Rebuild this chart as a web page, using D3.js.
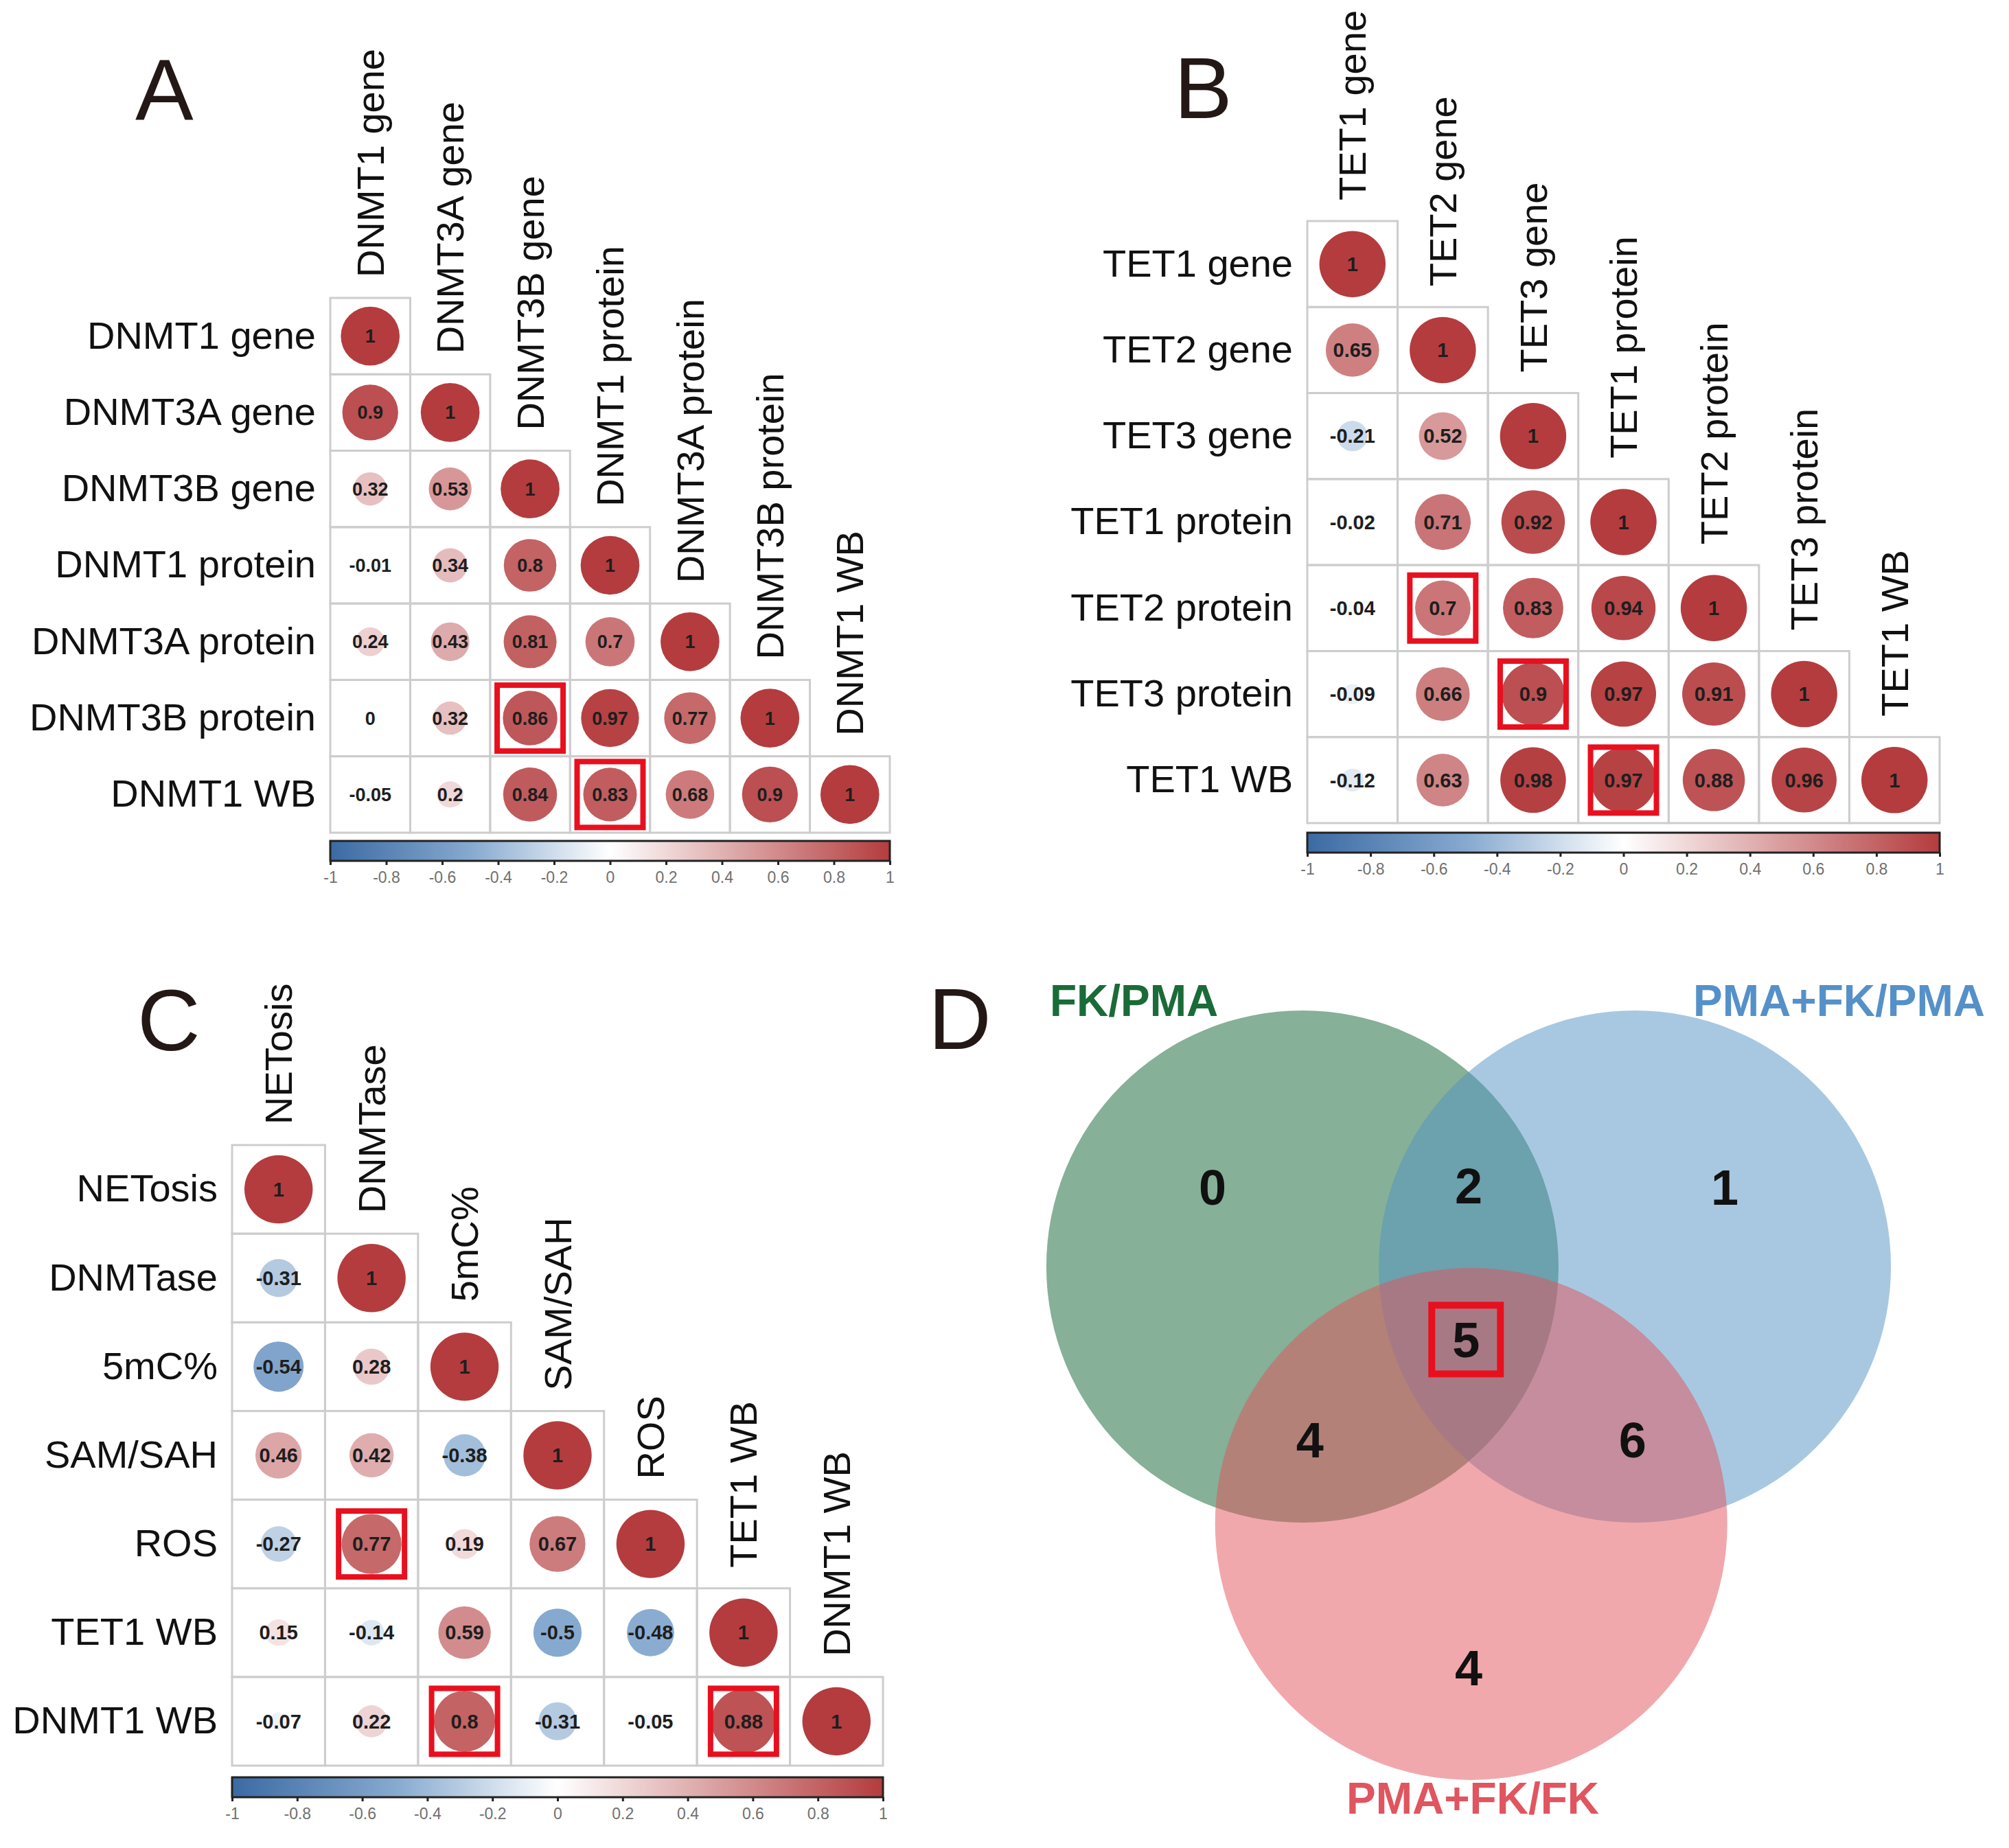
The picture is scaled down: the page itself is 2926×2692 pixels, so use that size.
<!DOCTYPE html>
<html>
<head>
<meta charset="utf-8">
<script src="https://cdn.jsdelivr.net/npm/d3@7"></script>
<style>
  body { margin: 0; background: #fff; }
  text { font-family: "Liberation Sans", Arial, sans-serif; }
</style>
</head>
<body>
<div id="chart"></div>
<script>
// panel A
const varsA = ["DNMT1 gene", "DNMT3A gene", "DNMT3B gene", "DNMT1 protein", "DNMT3A protein", "DNMT3B protein", "DNMT1 WB"];
const corrA = [
  [1],
  [0.9, 1],
  [0.32, 0.53, 1],
  [-0.01, 0.34, 0.8, 1],
  [0.24, 0.43, 0.81, 0.7, 1],
  [0, 0.32, 0.86, 0.97, 0.77, 1],
  [-0.05, 0.2, 0.84, 0.83, 0.68, 0.9, 1]
];
const markedA = [[5, 2], [6, 3]];

// panel B
const varsB = ["TET1 gene", "TET2 gene", "TET3 gene", "TET1 protein", "TET2 protein", "TET3 protein", "TET1 WB"];
const corrB = [
  [1],
  [0.65, 1],
  [-0.21, 0.52, 1],
  [-0.02, 0.71, 0.92, 1],
  [-0.04, 0.7, 0.83, 0.94, 1],
  [-0.09, 0.66, 0.9, 0.97, 0.91, 1],
  [-0.12, 0.63, 0.98, 0.97, 0.88, 0.96, 1]
];
const markedB = [[4, 1], [5, 2], [6, 3]];

// panel C
const varsC = ["NETosis", "DNMTase", "5mC%", "SAM/SAH", "ROS", "TET1 WB", "DNMT1 WB"];
const corrC = [
  [1],
  [-0.31, 1],
  [-0.54, 0.28, 1],
  [0.46, 0.42, -0.38, 1],
  [-0.27, 0.77, 0.19, 0.67, 1],
  [0.15, -0.14, 0.59, -0.5, -0.48, 1],
  [-0.07, 0.22, 0.8, -0.31, -0.05, 0.88, 1]
];
const markedC = [[4, 1], [6, 2], [6, 5]];

const colorbarTicks = [-1, -0.8, -0.6, -0.4, -0.2, 0, 0.2, 0.4, 0.6, 0.8, 1];

// panel D
const vennSets = ["FK/PMA", "PMA+FK/PMA", "PMA+FK/FK"];
const vennRegions = ["FK/PMA", "FK/PMA&PMA+FK/PMA", "PMA+FK/PMA", "all", "FK/PMA&PMA+FK/FK", "PMA+FK/PMA&PMA+FK/FK", "PMA+FK/FK"];
const vennCounts = [0, 2, 1, 5, 4, 6, 4];
const vennMarked = ["all"];

function main() {
  const svg = d3
    .select("#chart")
    .append("svg")
    .attr("width", 2926)
    .attr("height", 2692);

  const palette = d3
    .scaleLinear()
    .domain([-1, -0.5, 0, 0.5, 1])
    .range(["#3b6aa3", "#86a9cf", "#ffffff", "#d99d9e", "#b43c3e"]);

  const panels = [
    { letter: "A", vars: varsA, corr: corrA, marked: markedA, x0: 481, x1: 1296, y0: 434, y1: 1213, lx: 197, ly: 174, valSize: 27, barGap: 12 },
    { letter: "B", vars: varsB, corr: corrB, marked: markedB, x0: 1904, x1: 2825, y0: 322, y1: 1199, lx: 1710, ly: 172, valSize: 29, barGap: 14 },
    { letter: "C", vars: varsC, corr: corrC, marked: markedC, x0: 338, x1: 1286, y0: 1668, y1: 2572, lx: 200, ly: 1530, valSize: 29, barGap: 17 }
  ];

  panels.forEach((p, pi) => drawCorr(p, pi));

  function drawCorr(p, pi) {
    const g = svg.append("g");
    const x = d3.scaleBand().domain(p.vars).range([p.x0, p.x1]);
    const y = d3.scaleBand().domain(p.vars).range([p.y0, p.y1]);
    const r = d3.scaleSqrt().domain([0, 1]).range([0, 0.385 * y.bandwidth()]);

    const cells = [];
    p.corr.forEach((row, i) =>
      row.forEach((v, j) => cells.push({ row: p.vars[i], col: p.vars[j], v: v }))
    );

    g.append("text")
      .attr("x", p.lx)
      .attr("y", p.ly)
      .attr("font-size", 127)
      .attr("fill", "#231815")
      .text(p.letter);

    g.selectAll(".cell")
      .data(cells)
      .enter()
      .append("rect")
      .attr("x", (d) => x(d.col))
      .attr("y", (d) => y(d.row))
      .attr("width", x.bandwidth())
      .attr("height", y.bandwidth())
      .attr("fill", "none")
      .attr("stroke", "#cdcdcd")
      .attr("stroke-width", 3);

    g.selectAll(".dot")
      .data(cells)
      .enter()
      .append("circle")
      .attr("cx", (d) => x(d.col) + x.bandwidth() / 2)
      .attr("cy", (d) => y(d.row) + y.bandwidth() / 2)
      .attr("r", (d) => r(Math.abs(d.v)))
      .attr("fill", (d) => palette(d.v));

    g.selectAll(".val")
      .data(cells)
      .enter()
      .append("text")
      .attr("x", (d) => x(d.col) + x.bandwidth() / 2)
      .attr("y", (d) => y(d.row) + y.bandwidth() / 2)
      .attr("dy", "0.35em")
      .attr("text-anchor", "middle")
      .attr("font-size", p.valSize)
      .attr("font-weight", "bold")
      .attr("fill", "#1e1e1e")
      .text((d) => String(d.v));

    // row labels
    g.selectAll(".rlab")
      .data(p.vars)
      .enter()
      .append("text")
      .attr("x", p.x0 - 21)
      .attr("y", (d) => y(d) + y.bandwidth() / 2)
      .attr("dy", "0.32em")
      .attr("text-anchor", "end")
      .attr("font-size", 56)
      .attr("fill", "#111")
      .text((d) => d);

    // column labels sit on top of the diagonal cell
    g.selectAll(".clab")
      .data(p.vars)
      .enter()
      .append("text")
      .attr("transform", (d) => `translate(${x(d) + x.bandwidth() / 2},${y(d) - 30}) rotate(-90)`)
      .attr("dy", "0.35em")
      .attr("font-size", 56)
      .attr("fill", "#111")
      .text((d) => d);

    const side = 104;
    g.selectAll(".mark")
      .data(p.marked)
      .enter()
      .append("rect")
      .attr("x", (d) => x(p.vars[d[1]]) + x.bandwidth() / 2 - side / 2 + 4)
      .attr("y", (d) => y(p.vars[d[0]]) + y.bandwidth() / 2 - side / 2 + 4)
      .attr("width", side - 8)
      .attr("height", side - 8)
      .attr("fill", "none")
      .attr("stroke", "#e8101e")
      .attr("stroke-width", 8);

    // colour bar
    const gradId = "grad" + pi;
    const grad = svg
      .append("defs")
      .append("linearGradient")
      .attr("id", gradId)
      .attr("x1", "0%")
      .attr("x2", "100%");
    d3.range(-1, 1.001, 0.1).forEach((t) =>
      grad
        .append("stop")
        .attr("offset", ((t + 1) / 2) * 100 + "%")
        .attr("stop-color", palette(t))
    );

    const cb = d3.scaleLinear().domain([-1, 1]).range([p.x0, p.x1]);
    const barTop = p.y1 + p.barGap;
    const barH = 29;
    g.append("rect")
      .attr("x", p.x0)
      .attr("y", barTop)
      .attr("width", p.x1 - p.x0)
      .attr("height", barH)
      .attr("fill", `url(#${gradId})`)
      .attr("stroke", "#222")
      .attr("stroke-width", 3);

    const axis = g
      .append("g")
      .attr("transform", `translate(0,${barTop + barH})`)
      .call(
        d3
          .axisBottom(cb)
          .tickValues(colorbarTicks)
          .tickSize(6)
          .tickPadding(10)
          .tickFormat((d) => String(+d.toFixed(1)))
      );
    axis.select(".domain").remove();
    axis.selectAll(".tick line").attr("stroke", "#222").attr("stroke-width", 3);
    axis
      .selectAll(".tick text")
      .attr("font-size", 23)
      .attr("fill", "#707070")
      .style("font-family", '"Liberation Sans", Arial, sans-serif');
  }

  // Venn diagram, unit = circle radius
  const vx = d3.scaleLinear().domain([0, 1]).range([2139, 2139 + 373]);
  const vy = d3.scaleLinear().domain([0, 1]).range([1970, 1970 + 373]);
  const vennCenters = [[-0.649, -0.335], [0.649, -0.335], [0.01, 0.67]];
  const vennFill = ["#0d6131", "#5191c3", "#e1515a"];
  const vennText = ["#1a6b38", "#5591c8", "#e0555f"];
  const labelAt = [[-1.0, -0.645], [0, -0.65], [1.0, -0.645], [-0.01, -0.05], [-0.62, 0.34], [0.64, 0.34], [0, 1.23]];

  const gv = svg.append("g");
  gv.append("text")
    .attr("x", 1352)
    .attr("y", 1528)
    .attr("font-size", 127)
    .attr("fill", "#231815")
    .text("D");

  gv.selectAll(".set")
    .data(vennSets)
    .enter()
    .append("circle")
    .attr("cx", (d, i) => vx(vennCenters[i][0]))
    .attr("cy", (d, i) => vy(vennCenters[i][1]))
    .attr("r", vx(1) - vx(0))
    .attr("fill", (d, i) => vennFill[i])
    .attr("fill-opacity", 0.5);

  const setLabelPos = [
    { x: 1529, y: 1480, anchor: "start" },
    { x: 2891, y: 1480, anchor: "end" },
    { x: 2145, y: 2642, anchor: "middle" }
  ];
  gv.selectAll(".setlab")
    .data(vennSets)
    .enter()
    .append("text")
    .attr("x", (d, i) => setLabelPos[i].x)
    .attr("y", (d, i) => setLabelPos[i].y)
    .attr("text-anchor", (d, i) => setLabelPos[i].anchor)
    .attr("font-size", 64)
    .attr("font-weight", "bold")
    .attr("fill", (d, i) => vennText[i])
    .text((d) => d);

  gv.selectAll(".count")
    .data(vennCounts)
    .enter()
    .append("text")
    .attr("x", (d, i) => vx(labelAt[i][0]))
    .attr("y", (d, i) => vy(labelAt[i][1]))
    .attr("dy", "0.36em")
    .attr("text-anchor", "middle")
    .attr("font-size", 72)
    .attr("font-weight", "bold")
    .attr("fill", "#111")
    .text((d) => d);

  gv.selectAll(".vmark")
    .data(vennRegions.map((d, i) => ({ d, i })).filter((e) => vennMarked.includes(e.d)))
    .enter()
    .append("rect")
    .attr("x", (e) => vx(labelAt[e.i][0]) - 50)
    .attr("y", (e) => vy(labelAt[e.i][1]) - 50)
    .attr("width", 100)
    .attr("height", 100)
    .attr("fill", "none")
    .attr("stroke", "#e8101e")
    .attr("stroke-width", 10);
}

main();
</script>
</body>
</html>
